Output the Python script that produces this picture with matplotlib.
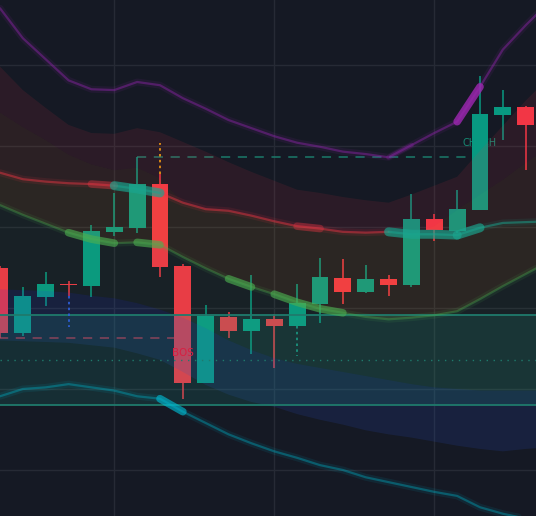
"""Candles + envelope bands, dark theme (static recreation)."""

import matplotlib

matplotlib.use("Agg")
import matplotlib.pyplot as plt
import numpy as np

BG = "#151924"
GRID = "#262a35"
UP = "#089981"
DOWN = "#f23645"

# --- candles ---------------------------------------------------------------
opens = [124.9, 116.9, 121.4, 123.0, 122.7, 129.4, 129.9, 135.3, 125.2, 110.7, 118.9, 117.2,
         118.6, 117.8, 120.5, 123.7, 122.0, 123.6, 122.8, 131.0, 129.5, 132.1, 143.8, 144.8]
highs = [125.2, 122.6, 124.4, 123.3, 130.2, 134.2, 138.6, 136.5, 125.4, 120.4, 119.5, 124.1,
         119.3, 123.0, 126.2, 126.0, 125.3, 124.1, 134.1, 131.6, 134.6, 148.6, 146.9, 144.9]
lows = [116.3, 116.5, 120.2, 121.5, 121.4, 128.9, 129.3, 123.8, 108.8, 110.7, 116.3, 114.3,
        112.6, 117.8, 118.1, 120.5, 121.9, 121.5, 122.6, 128.3, 129.3, 132.1, 140.7, 137.0]
closes = [116.9, 121.5, 123.0, 122.8, 129.5, 130.0, 135.3, 125.1, 110.7, 119.0, 117.2, 118.6,
          117.8, 120.6, 123.8, 122.0, 123.6, 122.8, 131.0, 129.6, 132.2, 144.0, 144.8, 142.6]

# --- envelope lines / bands (one value per bar, last one is the next bar) ---
outer_upper = [157.0, 153.3, 150.7, 148.1, 147.0, 146.9, 147.9, 147.5, 145.9, 144.6, 143.2, 142.2,
               141.2, 140.4, 139.9, 139.3, 139.0, 138.6, 140.1, 141.6, 143.0, 147.3, 151.9, 154.9, 157.7]
upper_band_top = [149.8, 146.9, 144.7, 142.6, 141.6, 141.5, 142.2, 141.7, 140.5, 139.3, 138.0, 136.8,
                  135.7, 134.6, 134.2, 133.7, 133.3, 133.0, 134.0, 135.1, 136.2, 139.4, 142.5, 145.6, 148.4]
upper_band_bot = [144.1, 142.3, 140.7, 138.9, 137.7, 137.0, 137.3, 136.0, 133.0, 132.2, 132.0, 131.4,
                  130.7, 130.1, 129.8, 129.4, 129.3, 129.4, 129.1, 130.1, 132.1, 134.0, 135.8, 137.9, 139.8]
basis = [136.7, 135.9, 135.6, 135.4, 135.3, 135.1, 134.7, 134.2, 133.0, 132.2, 132.0, 131.4,
         130.7, 130.1, 129.8, 129.4, 129.3, 129.4, 129.1, 129.1, 129.0, 129.9, 130.5, 130.6, 130.7]
inner_lower = [132.7, 131.5, 130.4, 129.3, 128.5, 128.0, 128.1, 127.8, 126.3, 124.9, 123.6, 122.6,
               121.7, 120.7, 119.9, 119.4, 118.9, 118.6, 118.8, 119.1, 119.6, 121.1, 122.7, 124.2, 125.7]
lower_band_top = [122.3, 122.2, 122.1, 121.9, 121.5, 121.2, 120.6, 119.8, 118.8, 117.5, 116.0, 114.8,
                  113.8, 113.1, 112.6, 112.1, 111.6, 111.1, 110.6, 110.2, 110.0, 109.8, 109.8, 109.8, 109.8]
lower_band_bot = [116.0, 115.9, 115.8, 115.7, 115.4, 115.1, 114.4, 113.6, 112.1, 110.5, 109.3, 108.4,
                  107.8, 106.9, 106.2, 105.6, 104.9, 104.4, 104.0, 103.5, 103.0, 102.6, 102.3, 102.6, 102.8]
outer_lower = [109.1, 110.0, 110.2, 110.6, 110.2, 109.8, 109.1, 108.8, 107.2, 105.8, 104.4, 103.3,
               102.3, 101.5, 100.6, 100.0, 99.1, 98.5, 97.9, 97.3, 96.8, 95.4, 94.6, 94.0, 93.5]

# basis colour by regime, and the "active" stretches drawn thicker
basis_red = [(0, 5), (7, 17)]
basis_teal = [(5, 7), (17, 24)]
hl_purple = [(20, 21)]
hl_red = [(4, 5), (13, 14)]
hl_teal = [(5, 7), (17, 20), (20, 21)]
hl_green = [(3, 5), (6, 7), (10, 11), (12, 15)]
hl_cyan = [(7, 8)]

# --- structure levels --------------------------------------------------------
zone_top, zone_bottom, zone_mid = 119.1, 108.0, 113.6
bos_from, bos_to, bos_level = 0, 8, 116.3       # swing low of bar 0, broken at bar 8
choch_from, choch_to, choch_level = 6, 21, 138.6  # swing high of bar 6, broken at bar 21
sweep_low = (3, 121.5, 117.7)
sweep_high = (7, 136.5, 140.4)
sweep_mid = (13, 117.8, 114.1)


def segment(ax, xs, ys, a, b, color, lw, alpha, z=4):
    ax.plot(xs[a:b + 1], ys[a:b + 1], color=color, lw=lw, alpha=alpha,
            solid_capstyle="round", zorder=z)


def glow_line(ax, xs, ys, color, core_alpha=0.45, a=0, b=None):
    b = len(ys) - 1 if b is None else b
    segment(ax, xs, ys, a, b, color, 5.0, 0.10)
    segment(ax, xs, ys, a, b, color, 1.6, core_alpha)


def main() -> None:
    fig = plt.figure(figsize=(5.36, 5.16), dpi=100, facecolor=BG)
    ax = fig.add_axes([0, 0, 1, 1], facecolor=BG)

    n = len(opens)
    xc = np.arange(n)
    xl = np.arange(len(basis))
    o, h, l, c = map(np.array, (opens, highs, lows, closes))
    col = [UP if cc >= oo else DOWN for oo, cc in zip(o, c)]

    # grid
    ax.set_xticks([5, 12, 19])
    ax.set_yticks(np.arange(100, 151, 10))
    ax.grid(True, color=GRID, lw=1)
    ax.set_axisbelow(True)
    ax.tick_params(length=0, labelleft=False, labelbottom=False)
    for s in ax.spines.values():
        s.set_visible(False)

    # candles
    ax.vlines(xc, l, h, colors=col, lw=1.1, zorder=2)
    ax.bar(xc, c - o, bottom=o, width=0.74, color=col, zorder=2.1)

    # structure lines + labels
    ax.hlines(bos_level, bos_from - 1, bos_to, colors=DOWN, lw=1.1, alpha=0.7,
              linestyles=(0, (6, 5)), zorder=1.9)
    ax.text(bos_to, bos_level - 1.3, "BOS", color="#d81f42", fontsize=7.5,
            ha="center", va="top", zorder=5)
    ax.hlines(choch_level, choch_from, choch_to, colors="#1b7a6a", lw=1.1,
              linestyles=(0, (6, 5)), zorder=1.9)
    ax.text(choch_to, choch_level + 1.2, "CHoCH", color="#158a73", fontsize=7,
            ha="center", va="bottom", zorder=1.9)

    # band overlays
    ax.fill_between(xl, upper_band_top, upper_band_bot, color=DOWN, alpha=0.10, lw=0, zorder=3)
    ax.fill_between(xl, upper_band_bot, basis, color=DOWN, alpha=0.06, lw=0, zorder=3)
    ax.fill_between(xl, upper_band_bot, basis, color="#f0a020", alpha=0.05, lw=0, zorder=3)
    ax.fill_between(xl, basis, inner_lower, color="#f0a020", alpha=0.10, lw=0, zorder=3)
    ax.fill_between(xl, inner_lower, lower_band_top, color="#4caf50", alpha=0.06, lw=0, zorder=3)
    ax.fill_between(xl, lower_band_top, lower_band_bot, color="#2950c8", alpha=0.16, lw=0, zorder=3)
    ax.axhspan(zone_bottom, zone_top, color="#22ab94", alpha=0.15, lw=0, zorder=3)
    ax.axhline(zone_top, color="#1f7a6c", lw=1.3, zorder=3.5)
    ax.axhline(zone_bottom, color="#1f7a6c", lw=1.3, zorder=3.5)
    ax.axhline(zone_mid, color="#1f7a6c", lw=1.0, ls=(0, (1, 4)), zorder=3.5)

    # sweep markers
    for (x, y0, y1), cl in ((sweep_low, "#2f62e0"), (sweep_high, "#f59a12"), (sweep_mid, "#1b9a84")):
        ax.vlines(x, y0, y1, colors=cl, lw=1.2, linestyles=(0, (1.5, 2)), zorder=4)

    # envelope lines
    glow_line(ax, xl, outer_upper, "#8e24aa", 0.45)
    segment(ax, xl, outer_upper, 17, 18, "#8e24aa", 3.5, 0.25)
    for a, b in hl_purple:
        segment(ax, xl, outer_upper, a, b, "#9c27b0", 5.5, 0.8)

    for a, b in basis_red:
        glow_line(ax, xl, basis, DOWN, 0.45, a, b)
    for a, b in basis_teal:
        glow_line(ax, xl, basis, "#1aa58f", 0.5, a, b)
    for a, b in hl_red:
        segment(ax, xl, basis, a, b, DOWN, 5.5, 0.35)
    for a, b in hl_teal:
        segment(ax, xl, basis, a, b, "#1aa58f", 6.5, 0.65)

    glow_line(ax, xl, inner_lower, "#4caf50", 0.35)
    for a, b in hl_green:
        segment(ax, xl, inner_lower, a, b, "#4caf50", 5.5, 0.6)

    glow_line(ax, xl, outer_lower, "#00acc1", 0.4)
    for a, b in hl_cyan:
        segment(ax, xl, outer_lower, a, b, "#00bcd4", 5.5, 0.6)

    ax.set_xlim(0.0, 23.45)
    ax.set_ylim(94.32, 158.02)
    fig.savefig("out.png", dpi=100, facecolor=BG)
    plt.close(fig)


if __name__ == "__main__":
    main()
